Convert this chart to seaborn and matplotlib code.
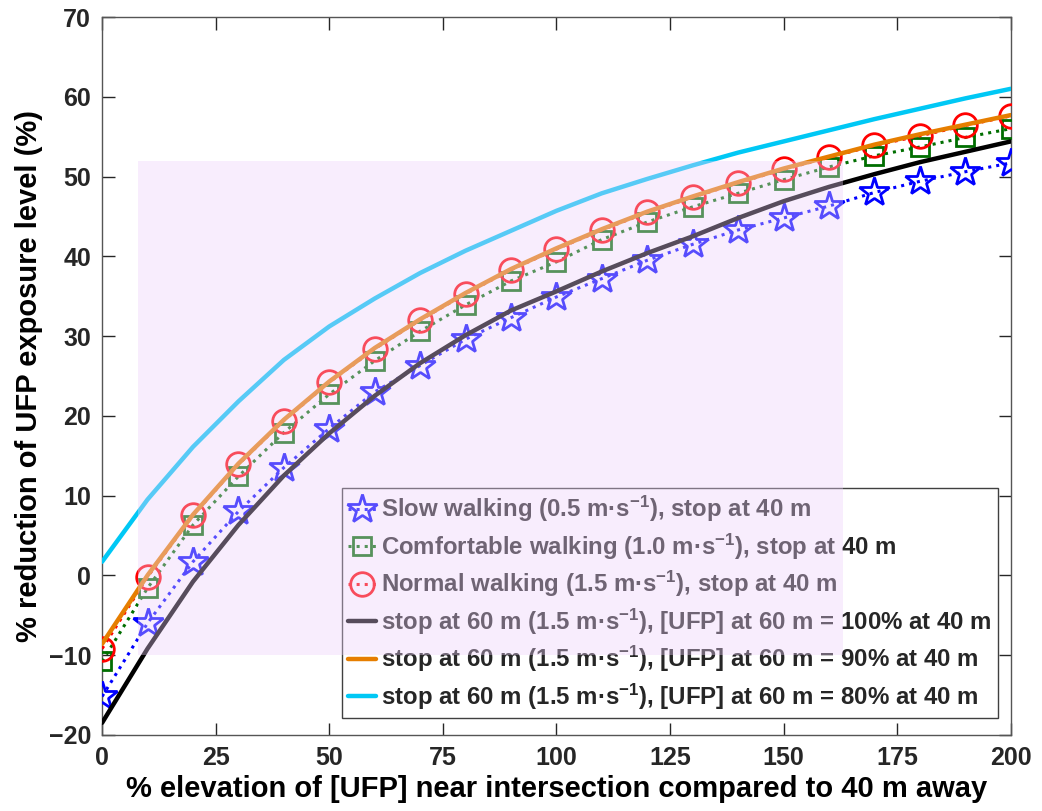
import matplotlib
matplotlib.use("Agg")
import matplotlib.pyplot as plt
import seaborn as sns
import numpy as np
from matplotlib.patches import Rectangle

# ---- data ----
x_vals = [0, 10, 20, 30, 40, 50, 60, 70, 80, 90, 100, 110, 120, 130, 140, 150, 160, 170, 180, 190, 200]
slow_walk = [-15.2, -6.0, 1.7, 8.0, 13.5, 18.4, 23.0, 26.3, 29.6, 32.3, 34.9, 37.2, 39.5, 41.5, 43.3, 44.8, 46.3, 48.0, 49.4, 50.6, 51.7]
comfortable_walk = [-10.8, -1.6, 6.3, 12.4, 17.9, 22.7, 26.9, 30.6, 33.9, 36.9, 39.3, 42.1, 44.3, 46.2, 47.9, 49.6, 51.2, 52.6, 53.7, 54.9, 56.0]
normal_walk = [-9.2, -0.2, 7.5, 13.9, 19.4, 24.2, 28.4, 32.0, 35.3, 38.3, 40.9, 43.3, 45.5, 47.4, 49.2, 50.9, 52.4, 53.9, 55.1, 56.4, 57.6]
stop60_100 = [-18.5, -9.2, -0.8, 6.3, 12.5, 17.8, 22.5, 26.6, 30.1, 33.2, 35.6, 38.1, 40.4, 42.5, 44.8, 46.9, 48.7, 50.3, 51.8, 53.1, 54.4]
stop60_90 = [-8.6, 0.0, 7.6, 14.0, 19.5, 24.3, 28.5, 32.1, 35.4, 38.4, 41.0, 43.4, 45.6, 47.5, 49.3, 51.0, 52.5, 54.0, 55.3, 56.5, 57.7]
stop60_80 = [1.7, 9.5, 16.1, 21.8, 27.0, 31.2, 34.7, 37.9, 40.7, 43.2, 45.7, 47.9, 49.7, 51.4, 53.0, 54.4, 55.8, 57.2, 58.5, 59.8, 61.0]

labels = [
    "Slow walking (0.5 m\u00b7s$^{-1}$), stop at 40 m",
    "Comfortable walking (1.0 m\u00b7s$^{-1}$), stop at 40 m",
    "Normal walking (1.5 m\u00b7s$^{-1}$), stop at 40 m",
    "stop at 60 m (1.5 m\u00b7s$^{-1}$), [UFP] at 60 m = 100% at 40 m",
    "stop at 60 m (1.5 m\u00b7s$^{-1}$), [UFP] at 60 m = 90% at 40 m",
    "stop at 60 m (1.5 m\u00b7s$^{-1}$), [UFP] at 60 m = 80% at 40 m",
]
x_ticks = [0, 25, 50, 75, 100, 125, 150, 175, 200]
y_ticks = [-20, -10, 0, 10, 20, 30, 40, 50, 60, 70]
x_label = "% elevation of [UFP] near intersection compared to 40 m away"
y_label = "% reduction of UFP exposure level (%)"

# ---- style ----
sns.set_style("ticks")
plt.rcParams["font.family"] = ["Liberation Sans", "DejaVu Sans"]
plt.rcParams["font.weight"] = "bold"
plt.rcParams["mathtext.fontset"] = "custom"
plt.rcParams["mathtext.rm"] = "Liberation Sans:bold"
plt.rcParams["mathtext.it"] = "Liberation Sans:bold"
plt.rcParams["mathtext.bf"] = "Liberation Sans:bold"
plt.rcParams["mathtext.default"] = "bf"

fig = plt.figure(figsize=(10.42, 8.11), dpi=100)
ax = fig.add_axes([0.098, 0.094, 0.872, 0.885])

sns.lineplot(x=x_vals, y=slow_walk, ax=ax, color="#0000FF", linestyle=":", linewidth=2.2,
             marker="*", markersize=22, markerfacecolor="none", markeredgecolor="#0000FF",
             markeredgewidth=2.0, label=labels[0], zorder=3)
sns.lineplot(x=x_vals, y=comfortable_walk, ax=ax, color="#006E00", linestyle=":", linewidth=2.2,
             marker="s", markersize=13, markerfacecolor="none", markeredgecolor="#006E00",
             markeredgewidth=2.0, label=labels[1], zorder=3)
sns.lineplot(x=x_vals, y=normal_walk, ax=ax, color="#FF0000", linestyle=":", linewidth=2.2,
             marker="o", markersize=17, markerfacecolor="none", markeredgecolor="#FF0000",
             markeredgewidth=2.0, label=labels[2], zorder=3)
sns.lineplot(x=x_vals, y=stop60_100, ax=ax, color="#000000", linewidth=3.2,
             label=labels[3], zorder=4)
sns.lineplot(x=x_vals, y=stop60_90, ax=ax, color="#E67E00", linewidth=3.2,
             label=labels[4], zorder=4)
sns.lineplot(x=x_vals, y=stop60_80, ax=ax, color="#00C8F5", linewidth=3.2,
             label=labels[5], zorder=4)

ax.set_xlim(0, 200)
ax.set_ylim(-20, 70)
ax.set_xticks(x_ticks)
ax.set_yticks(y_ticks)
ax.tick_params(direction="in", length=9, width=1, top=True, right=True,
               labelsize=18, colors="#262626", pad=8)
for t in ax.get_xticklabels() + ax.get_yticklabels():
    t.set_fontweight("bold")
for s in ax.spines.values():
    s.set_visible(True)
    s.set_color("#555555")
    s.set_linewidth(1.0)

ax.set_xlabel(x_label, fontsize=21, fontweight="bold", color="#000000", labelpad=4)
ax.set_ylabel(y_label, fontsize=21, fontweight="bold", color="#000000", labelpad=4)

leg = ax.legend(loc="lower right", bbox_to_anchor=(0.986, 0.024), fontsize=17.3,
                frameon=True, fancybox=False, edgecolor="#404040", framealpha=1,
                handlelength=1.2, handletextpad=0.2, labelspacing=0.3,
                borderpad=0.25, borderaxespad=0.0)
leg.get_frame().set_linewidth(1.0)
for txt in leg.get_texts():
    txt.set_fontweight("bold")

# translucent highlight band drawn on top of everything
ax.add_patch(Rectangle((8, -10), 155, 62, facecolor="#EDD0FA", edgecolor="none",
                       alpha=0.37, zorder=10))

fig.savefig("out.png", dpi=100)
